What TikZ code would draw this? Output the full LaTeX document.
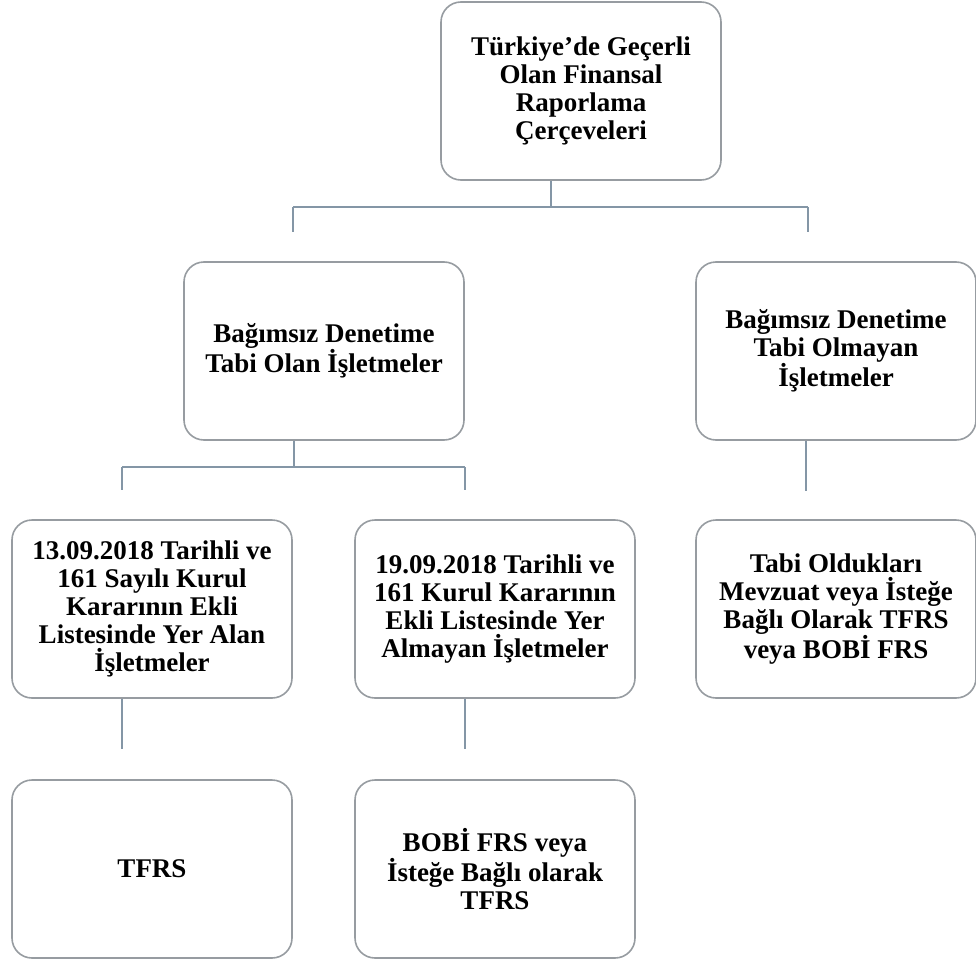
\documentclass[tikz,border=0pt]{standalone}
\usepackage{fontspec}
\setmainfont{Liberation Serif}
\usetikzlibrary{positioning}
\definecolor{boxgray}{HTML}{979CA1}
\definecolor{linkblue}{HTML}{8496A6}
\tikzset{frame/.style={draw=boxgray, line width=1.6pt, rounded corners=20pt,
   fill=white, minimum width=280pt, minimum height=178pt, inner sep=0pt,
   align=center, font=\bfseries\fontsize{27}{28}\selectfont},
 link/.style={draw=linkblue, line width=1.8pt},
 }

\begin{document}
\begin{tikzpicture}[x=1pt, y=-1pt]
        \fill[white] (0,0) rectangle (976,963);
        \useasboundingbox (0,0) rectangle (976,963);

        % boxes
        \node[frame] (top) at (581, 91) {Türkiye’de Geçerli\\Olan Finansal\\Raporlama\\Çerçeveleri};
        \node[frame] (olan) at (324, 351) {Bağımsız Denetime\\Tabi Olan İşletmeler};
        \node[frame] (olmayan) at (836, 351) {Bağımsız Denetime\\Tabi Olmayan\\İşletmeler};
        \node[frame] (yeralan) at (152, 609) {13.09.2018 Tarihli ve\\161 Sayılı Kurul\\Kararının Ekli\\Listesinde Yer Alan\\İşletmeler};
        \node[frame] (almayan) at (495, 609) {19.09.2018 Tarihli ve\\161 Kurul Kararının\\Ekli Listesinde Yer\\Almayan İşletmeler};
        \node[frame] (mevzuat) at (836, 609) {Tabi Oldukları\\Mevzuat veya İsteğe\\Bağlı Olarak TFRS\\veya BOBİ FRS};
        \node[frame] (tfrs) at (152, 869) {TFRS};
        \node[frame] (bobi) at (495, 869) {BOBİ FRS veya\\İsteğe Bağlı olarak\\TFRS};

        % level 1
        \coordinate (busAL) at (293, 207);
        \coordinate (busAR) at (808, 207);
        \draw[link] ([xshift=-30pt]top.south) -- ++(0,25);
        \draw[link] (busAL) -- (busAR);
        \foreach \c in {busAL, busAR}
            \draw[link] (\c) -- ++(0,25);

        % level 2
        \coordinate (busBL) at (122, 467);
        \coordinate (busBR) at (465, 467);
        \draw[link] ([xshift=-30pt]olan.south) -- ++(0,27);
        \draw[link] (busBL) -- (busBR);
        \foreach \c in {busBL, busBR}
            \draw[link] (\c) -- ++(0,23);
        \draw[link] ([xshift=-30pt]olmayan.south) -- ++(0,50);

        % level 3
        \foreach \n in {yeralan, almayan}
            \draw[link] ([xshift=-30pt]\n.south) -- ++(0,50);
    \end{tikzpicture}
\end{document}
